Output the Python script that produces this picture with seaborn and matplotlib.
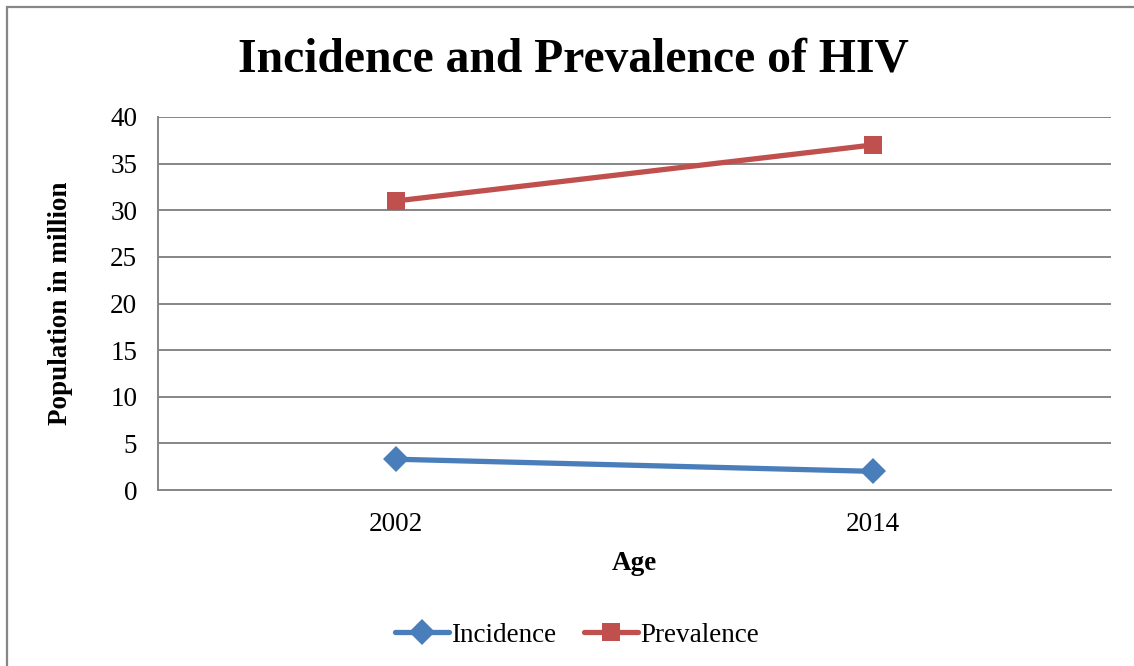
import pandas as pd
import matplotlib.pyplot as plt
import seaborn as sns
from matplotlib.patches import Rectangle

# data (population in million)
years = ['2002', '2014']
incidence = [3.3, 2.0]
prevalence = [31.0, 37.0]
series_names = ['Incidence', 'Prevalence']
y_ticks = [0, 5, 10, 15, 20, 25, 30, 35, 40]

df = pd.DataFrame({
    'year': years * 2,
    'value': incidence + prevalence,
    'series': [series_names[0]] * len(years) + [series_names[1]] * len(years),
})

sns.set_style('white')
plt.rcParams['font.family'] = ['Liberation Serif', 'DejaVu Serif']
plt.rcParams['text.color'] = 'black'
plt.rcParams['axes.labelcolor'] = 'black'
plt.rcParams['xtick.color'] = 'black'
plt.rcParams['ytick.color'] = 'black'

colors = {'Incidence': '#4A7EBB', 'Prevalence': '#C0504D'}
markers = {'Incidence': 'D', 'Prevalence': 's'}

fig = plt.figure(figsize=(11.34, 6.66), dpi=100)
ax = fig.add_axes([158 / 1134, 1 - 490 / 666, 953 / 1134, 373 / 666])

sns.lineplot(data=df, x='year', y='value', hue='series', style='series',
             palette=colors, markers=markers, dashes=False, linewidth=3.8,
             markersize=13.5, markeredgewidth=0, ax=ax)

ax.set_xlim(-0.5, 1.5)
ax.set_ylim(0, 40)
ax.set_yticks(y_ticks)
ax.yaxis.grid(True, color='#868686', linewidth=1.4)
ax.set_axisbelow(True)
for side in ['top', 'right']:
    ax.spines[side].set_visible(False)
for side in ['left', 'bottom']:
    ax.spines[side].set_color('#868686')
    ax.spines[side].set_linewidth(1.4)
ax.tick_params(axis='both', length=0, labelsize=19.5, labelcolor='black')
ax.tick_params(axis='y', pad=15)
ax.tick_params(axis='x', pad=16)

ax.set_xlabel('Age', fontsize=19.5, fontweight='bold', labelpad=10)
ax.set_ylabel('Population in million', fontsize=19.5, fontweight='bold', labelpad=27)

fig.text(0.506, 1 - 59 / 666, 'Incidence and Prevalence of HIV', ha='center', va='center',
         fontsize=34.3, fontweight='bold')

handles, labels = ax.get_legend_handles_labels()
ax.legend(handles, labels, loc='center', bbox_to_anchor=(577 / 1134, 1 - 635 / 666),
          bbox_transform=fig.transFigure, ncol=2, frameon=False, fontsize=19.5,
          handlelength=2.0, handletextpad=0.1, columnspacing=1.0)

# chart frame (only left and top edges visible in the crop)
fig.patches.append(Rectangle((7 / 1134, -0.1), 1.5, 1.1 - 7 / 666, transform=fig.transFigure,
                             fill=False, edgecolor='#868686', linewidth=1.6))

fig.savefig('out.png', dpi=100, facecolor='white')
